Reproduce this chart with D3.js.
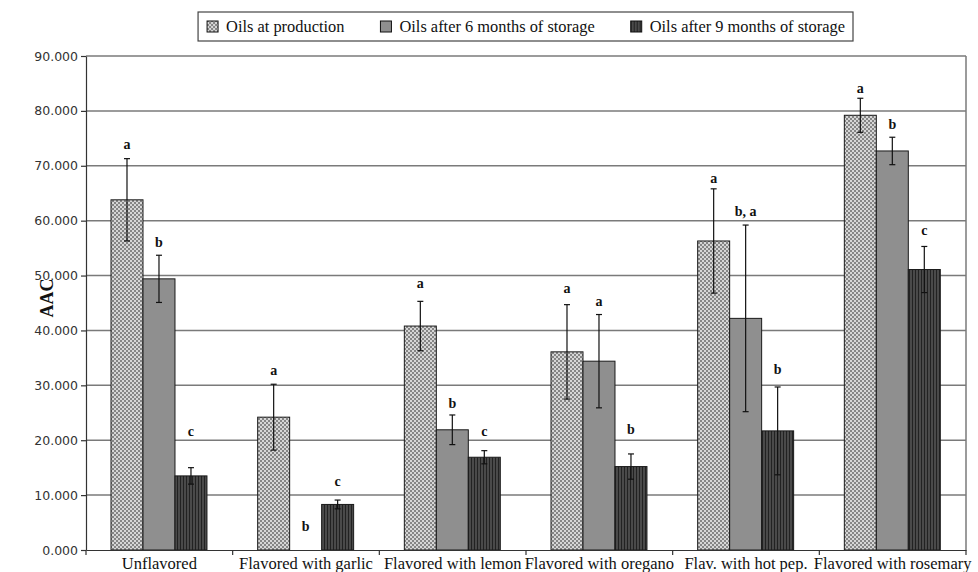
<!DOCTYPE html>
<html>
<head>
<meta charset="utf-8">
<script src="https://cdn.jsdelivr.net/npm/d3@7"></script>
<style>
  body { margin: 0; background: #fff; }
  svg { display: block; }
</style>
</head>
<body>
<svg width="978" height="572"></svg>
<script>
// categories and series
const categories = ["Unflavored", "Flavored with garlic", "Flavored with lemon",
    "Flavored with oregano", "Flav. with hot pep.", "Flavored with rosemary"];
const seriesNames = ["Oils at production", "Oils after 6 months of storage", "Oils after 9 months of storage"];

const atProduction = [63.8, 24.2, 40.8, 36.1, 56.3, 79.2];
const after6 = [49.4, 0, 21.9, 34.4, 42.2, 72.7];
const after9 = [13.5, 8.3, 16.9, 15.2, 21.7, 51.1];

// error (+/-) for each bar
const errProduction = [7.5, 6.0, 4.5, 8.6, 9.5, 3.1];
const err6 = [4.3, 0, 2.7, 8.5, 17.0, 2.5];
const err9 = [1.5, 0.8, 1.2, 2.3, 8.0, 4.2];

// significance letters and the value they sit at
const lettersProduction = ["a", "a", "a", "a", "a", "a"];
const letters6 = ["b", "b", "b", "a", "b, a", "b"];
const letters9 = ["c", "c", "c", "b", "b", "c"];
const letterAtProduction = [73.8, 32.6, 48.5, 47.5, 67.6, 84.1];
const letterAt6 = [56.0, 4.2, 26.7, 45.2, 61.7, 77.4];
const letterAt9 = [21.5, 12.4, 21.5, 21.9, 32.8, 58.1];

const yTicks = [0, 10, 20, 30, 40, 50, 60, 70, 80, 90];

const values = [atProduction, after6, after9];
const errs = [errProduction, err6, err9];
const letters = [lettersProduction, letters6, letters9];
const letterAt = [letterAtProduction, letterAt6, letterAt9];

const rows = [];
categories.forEach((c, i) => {
    seriesNames.forEach((s, j) => {
        rows.push({cat: c, s: j, v: values[j][i], e: errs[j][i], l: letters[j][i], la: letterAt[j][i]});
    });
});

const svg = d3.select("svg");
const plotLeft = 86, plotRight = 966, plotTop = 56, plotBottom = 550;
const serif = "'Liberation Serif', 'Times New Roman', serif";

const defs = svg.append("defs");
const p0 = defs.append("pattern").attr("id", "pat0")
    .attr("width", 4).attr("height", 4).attr("patternUnits", "userSpaceOnUse");
p0.append("rect").attr("width", 4).attr("height", 4).attr("fill", "#d6d6d6");
p0.append("rect").attr("width", 2).attr("height", 2).attr("fill", "#858585");
p0.append("rect").attr("x", 2).attr("y", 2).attr("width", 2).attr("height", 2).attr("fill", "#858585");

const p2 = defs.append("pattern").attr("id", "pat2")
    .attr("width", 3).attr("height", 3).attr("patternUnits", "userSpaceOnUse");
p2.append("rect").attr("width", 3).attr("height", 3).attr("fill", "#4a4a4a");
p2.append("rect").attr("width", 1).attr("height", 3).attr("fill", "#222");

const fills = ["url(#pat0)", "#8f8f8f", "url(#pat2)"];

var x0 = d3.scaleBand().domain(categories).range([plotLeft, plotRight]).paddingInner(0).paddingOuter(0);
var x1 = d3.scaleBand().domain([0, 1, 2]).range([25, x0.bandwidth() - 25.7]);
var y = d3.scaleLinear().domain([0, 90]).range([plotBottom, plotTop]);

// grid
svg.append("g").selectAll("line").data(yTicks.slice(1)).enter().append("line")
    .attr("x1", plotLeft).attr("x2", plotRight)
    .attr("y1", d => y(d)).attr("y2", d => y(d))
    .attr("stroke", "#7a7a7a").attr("stroke-width", 1.5);
svg.append("line").attr("x1", plotRight).attr("x2", plotRight).attr("y1", plotTop).attr("y2", plotBottom)
    .attr("stroke", "#7a7a7a").attr("stroke-width", 1.5);

// bars
svg.append("g").selectAll("rect").data(rows.filter(d => d.v > 0)).enter().append("rect")
    .attr("x", d => x0(d.cat) + x1(d.s))
    .attr("y", d => y(d.v))
    .attr("width", x1.bandwidth())
    .attr("height", d => y(0) - y(d.v))
    .attr("fill", d => fills[d.s])
    .attr("stroke", "#1a1a1a").attr("stroke-width", 1);

// error bars
const eg = svg.append("g").attr("stroke", "#111").attr("stroke-width", 1.2);
rows.filter(d => d.e > 0).forEach(d => {
    const cx = x0(d.cat) + x1(d.s) + x1.bandwidth() / 2;
    eg.append("line").attr("x1", cx).attr("x2", cx).attr("y1", y(d.v + d.e)).attr("y2", y(d.v - d.e));
    eg.append("line").attr("x1", cx - 3).attr("x2", cx + 3).attr("y1", y(d.v + d.e)).attr("y2", y(d.v + d.e));
    eg.append("line").attr("x1", cx - 3).attr("x2", cx + 3).attr("y1", y(d.v - d.e)).attr("y2", y(d.v - d.e));
});

// letters
svg.append("g").selectAll("text").data(rows).enter().append("text")
    .attr("x", d => x0(d.cat) + x1(d.s) + x1.bandwidth() / 2)
    .attr("y", d => y(d.la))
    .attr("dy", "0.3em")
    .attr("text-anchor", "middle")
    .attr("font-family", serif)
    .attr("font-weight", "bold")
    .attr("font-size", 14)
    .attr("fill", "#111")
    .text(d => d.l);

// axes
var yAxis = d3.axisLeft(y).tickValues(yTicks).tickFormat(d3.format(".3f")).tickSize(5).tickSizeOuter(0);
const ya = svg.append("g").attr("transform", "translate(" + plotLeft + ",0)").call(yAxis);
ya.selectAll("text").attr("font-family", "DejaVu Sans").attr("font-size", 12.5).attr("fill", "#333").attr("x", -8);
ya.selectAll("line, path").attr("stroke", "#333").attr("stroke-width", 1.2);

var xAxis = d3.axisBottom(x0).tickSize(0).tickSizeOuter(0);
const xa = svg.append("g").attr("transform", "translate(0," + plotBottom + ")").call(xAxis);
xa.selectAll("text").attr("font-family", serif).attr("font-size", 16.5).attr("fill", "#111").attr("dy", "0.95em");
xa.select("path").attr("stroke", "#333").attr("stroke-width", 1.2);
xa.selectAll(".bound").data(d3.range(categories.length + 1)).enter().append("line")
    .attr("x1", i => plotLeft + i * x0.bandwidth()).attr("x2", i => plotLeft + i * x0.bandwidth())
    .attr("y1", 0).attr("y2", 5).attr("stroke", "#333").attr("stroke-width", 1.2);

// y title
svg.append("text")
    .attr("transform", "translate(53,298) rotate(-90)")
    .attr("text-anchor", "middle")
    .attr("font-family", serif)
    .attr("font-weight", "bold")
    .attr("font-size", 18)
    .attr("fill", "#111")
    .text("AAC");

// legend
const lg = svg.append("g");
const legendBox = lg.append("rect").attr("y", 12).attr("height", 29)
    .attr("fill", "#fff").attr("stroke", "#444").attr("stroke-width", 1.2);
const items = [];
seriesNames.forEach((s, j) => {
    const g = lg.append("g");
    g.append("rect").attr("x", 0).attr("y", 21).attr("width", 11).attr("height", 11)
        .attr("fill", fills[j]).attr("stroke", "#111");
    const t = g.append("text").attr("x", 19).attr("y", 32)
        .attr("font-family", serif).attr("font-size", 16.4).attr("fill", "#111")
        .text(s);
    items.push({g: g, w: 19 + t.node().getComputedTextLength()});
});
// legend ends at x = 845, box a little wider
const gap = 36;
const totalW = d3.sum(items, d => d.w) + gap * (items.length - 1);
let lx = 845 - totalW;
items.forEach(it => { it.g.attr("transform", "translate(" + lx + ",0)"); lx += it.w + gap; });
legendBox.attr("x", 845 - totalW - 9).attr("width", totalW + 17);
</script>
</body>
</html>
